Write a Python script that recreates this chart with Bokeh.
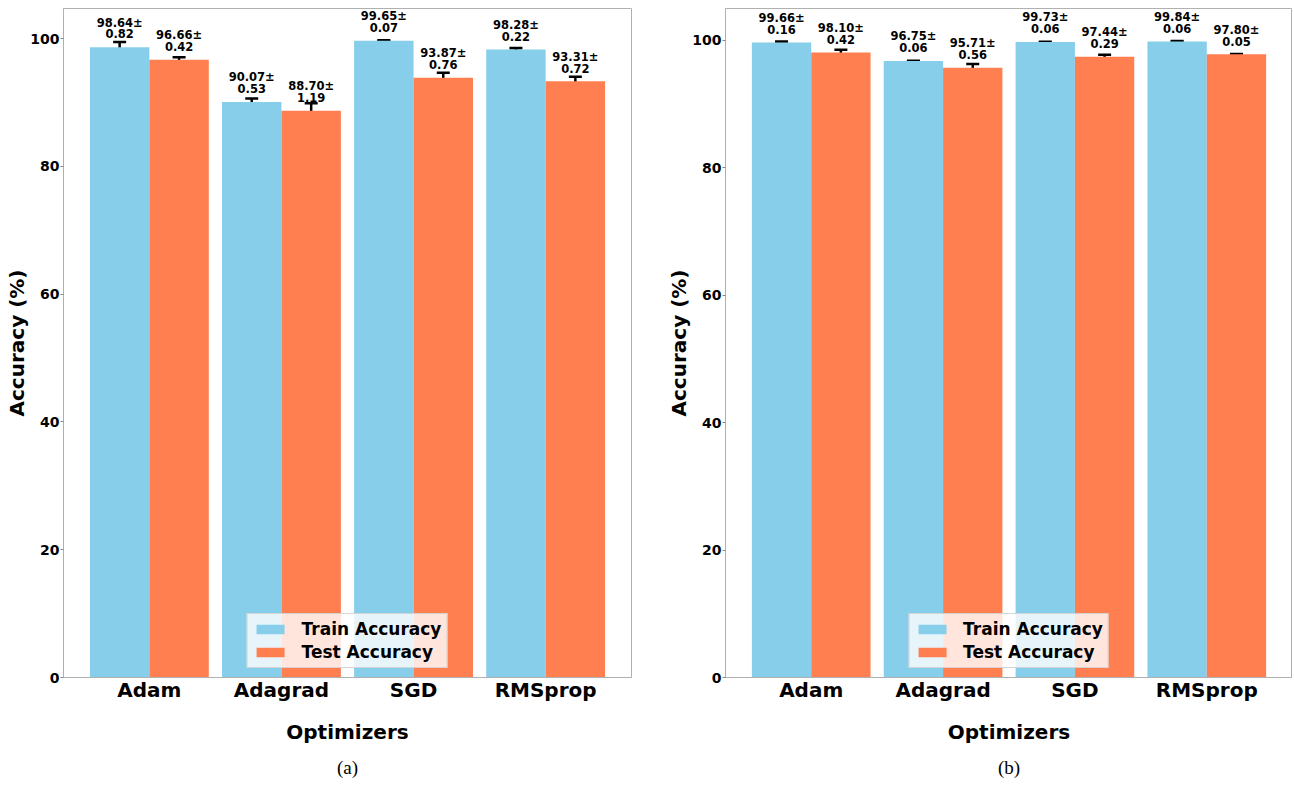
from bokeh.plotting import figure
from bokeh.models import (ColumnDataSource, FactorRange, Range1d, Whisker, TeeHead,
                          Legend, LegendItem, Title, FixedTicker)
from bokeh.transform import dodge
from bokeh.layouts import row
from bokeh.core.properties import value
from bokeh.embed import file_html
from bokeh.resources import INLINE

optimizers = ["Adam", "Adagrad", "SGD", "RMSprop"]

# Panel (a)
train_a = [98.64, 90.07, 99.65, 98.28]
train_a_err = [0.82, 0.53, 0.07, 0.22]
test_a = [96.66, 88.70, 93.87, 93.31]
test_a_err = [0.42, 1.19, 0.76, 0.72]

# Panel (b)
train_b = [99.66, 96.75, 99.73, 99.84]
train_b_err = [0.16, 0.06, 0.06, 0.06]
test_b = [98.10, 95.71, 97.44, 97.80]
test_b_err = [0.42, 0.56, 0.29, 0.05]

series_labels = ["Train Accuracy", "Test Accuracy"]
y_ticks = [0, 20, 40, 60, 80, 100]

TRAIN_COLOR = "#87CEEB"
TEST_COLOR = "#FF7F50"
FONT = "DejaVu Sans"
FRAME_COLOR = "#b0b0b0"
H = 788
LABEL_GAP = 0.9


def make_panel(train, train_err, test, test_err, ymax, caption, width, mbl, mbr, mbt, mbb):
    p = figure(
        x_range=FactorRange(*optimizers, range_padding=0.15, range_padding_units="absolute"),
        y_range=Range1d(0, ymax),
        width=width, height=H,
        min_border_left=mbl, min_border_right=mbr,
        min_border_top=mbt, min_border_bottom=mbb,
        output_backend="svg", toolbar_location=None,
    )
    src = ColumnDataSource(dict(
        opt=optimizers,
        train=train,
        train_lo=[v - e for v, e in zip(train, train_err)],
        train_hi=[v + e for v, e in zip(train, train_err)],
        train_lab=[f"{v:.2f}±\n{e:.2f}" for v, e in zip(train, train_err)],
        train_lab_y=[v + LABEL_GAP for v in train],
        test=test,
        test_lo=[v - e for v, e in zip(test, test_err)],
        test_hi=[v + e for v, e in zip(test, test_err)],
        test_lab=[f"{v:.2f}±\n{e:.2f}" for v, e in zip(test, test_err)],
        test_lab_y=[v + LABEL_GAP for v in test],
    ))
    off = 0.225
    r_train = p.vbar(x=dodge("opt", -off, range=p.x_range), top="train", width=0.45,
                     source=src, fill_color=TRAIN_COLOR, line_color=None)
    r_test = p.vbar(x=dodge("opt", off, range=p.x_range), top="test", width=0.45,
                    source=src, fill_color=TEST_COLOR, line_color=None)

    for o, lo, hi in ((-off, "train_lo", "train_hi"), (off, "test_lo", "test_hi")):
        w = Whisker(source=src, base=dodge("opt", o, range=p.x_range), lower=lo, upper=hi,
                    line_color="black", line_width=2.5,
                    upper_head=TeeHead(size=13, line_color="black", line_width=2.5),
                    lower_head=TeeHead(size=13, line_color="black", line_width=2.5))
        p.add_layout(w)

    for o, lab, ly in ((-off, "train_lab", "train_lab_y"), (off, "test_lab", "test_lab_y")):
        p.text(x=dodge("opt", o, range=p.x_range), y=ly, text=lab, source=src,
               text_font=value(FONT), text_font_style="bold", text_font_size="11.5px",
               text_align="center", text_baseline="bottom", text_line_height=0.85,
               text_color="black")

    legend = Legend(items=[LegendItem(label=series_labels[0], renderers=[r_train]),
                           LegendItem(label=series_labels[1], renderers=[r_test])],
                    location="bottom_center")
    legend.margin = 9
    legend.padding = 5
    legend.spacing = 3
    legend.glyph_width = 35
    legend.glyph_height = 12
    legend.label_standoff = 14
    legend.label_height = 20
    legend.label_text_font = FONT
    legend.label_text_font_style = "bold"
    legend.label_text_font_size = "17px"
    legend.label_text_color = "black"
    legend.background_fill_color = "white"
    legend.background_fill_alpha = 0.8
    legend.border_line_color = "#cccccc"
    legend.border_line_alpha = 0.8
    p.add_layout(legend, "center")

    p.xgrid.visible = False
    p.ygrid.visible = False
    p.outline_line_color = FRAME_COLOR
    p.outline_line_width = 1

    xa = p.xaxis[0]
    xa.axis_line_color = FRAME_COLOR
    xa.major_tick_line_color = None
    xa.major_tick_in = 0
    xa.major_tick_out = 0
    xa.minor_tick_line_color = None
    xa.major_label_text_font = FONT
    xa.major_label_text_font_style = "bold"
    xa.major_label_text_font_size = "20px"
    xa.major_label_text_color = "black"
    xa.major_label_standoff = 0
    xa.axis_label = "Optimizers"
    xa.axis_label_text_font = FONT
    xa.axis_label_text_font_style = "bold"
    xa.axis_label_text_font_size = "20px"
    xa.axis_label_text_color = "black"
    xa.axis_label_standoff = 15

    ya = p.yaxis[0]
    ya.ticker = FixedTicker(ticks=y_ticks)
    ya.axis_line_color = FRAME_COLOR
    ya.major_tick_line_color = "#888888"
    ya.major_tick_in = 0
    ya.major_tick_out = 3
    ya.minor_tick_line_color = None
    ya.major_label_text_font = FONT
    ya.major_label_text_font_style = "bold"
    ya.major_label_text_font_size = "14px"
    ya.major_label_text_color = "black"
    ya.major_label_standoff = 1
    ya.axis_label = "Accuracy (%)"
    ya.axis_label_text_font = FONT
    ya.axis_label_text_font_style = "bold"
    ya.axis_label_text_font_size = "20px"
    ya.axis_label_text_color = "black"
    ya.axis_label_standoff = -2

    p.add_layout(Title(text=caption, align="center", text_font="Liberation Serif",
                       text_font_size="19px", text_font_style="normal", text_color="black",
                       standoff=17), "below")
    return p


pa = make_panel(train_a, train_a_err, test_a, test_a_err, 104.7, "(a)", 640, 63, 9, 8, 111)
pb = make_panel(train_b, train_b_err, test_b, test_b_err, 105.0, "(b)", 652, 85, 0, 5, 110)

layout = row(pa, pb)
open("out.html", "w").write(file_html(layout, INLINE))
